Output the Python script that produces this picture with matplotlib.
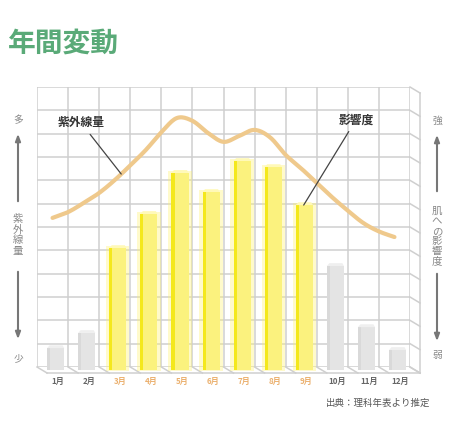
import numpy as np
import matplotlib.pyplot as plt
from matplotlib.patches import Polygon

plt.rcParams['font.family'] = ['Noto Sans CJK JP', 'DejaVu Sans']

# months and bar heights (skin impact, 12 grid divisions)
months = ['1月', '2月', '3月', '4月', '5月', '6月', '7月', '8月', '9月', '10月', '11月', '12月']
impact = [0.81, 1.46, 5.10, 6.56, 8.32, 7.50, 8.83, 8.57, 6.94, 4.33, 1.71, 0.73]
summer = [False, False, True, True, True, True, True, True, True, False, False, False]

# UV amount curve read at half-month steps
uv_x = [1, 1.5, 2, 2.5, 3, 3.5, 4, 4.5, 5, 5.5, 6, 6.5, 7, 7.5, 8, 8.5, 9, 9.5,
        10, 10.5, 11, 11.5, 12]
uv_y = [6.39, 6.64, 7.03, 7.46, 8.01, 8.64, 9.30, 10.06, 10.67, 10.55, 10.03, 9.65,
        9.90, 10.16, 9.84, 9.09, 8.51, 7.89, 7.27, 6.70, 6.17, 5.81, 5.57]

grid_c = '#cfcfcf'
curve_c = '#efc98c'
title_c = '#5aaa78'


def smooth(xs, ys, n=12):
    # catmull-rom through the read points
    p = np.column_stack([xs, ys])
    p = np.vstack([p[0], p, p[-1]])
    out = []
    for i in range(1, len(p) - 2):
        p0, p1, p2, p3 = p[i - 1], p[i], p[i + 1], p[i + 2]
        for t in np.linspace(0, 1, n, endpoint=False):
            t2, t3 = t * t, t * t * t
            out.append(0.5 * ((2 * p1) + (-p0 + p2) * t
                              + (2 * p0 - 5 * p1 + 4 * p2 - p3) * t2
                              + (-p0 + 3 * p1 - 3 * p2 + p3) * t3))
    out.append(p[-2])
    out = np.array(out)
    return out[:, 0], out[:, 1]


fig = plt.figure(figsize=(4.57, 4.22), dpi=100)
ax = fig.add_axes([37 / 457, 55 / 422, 373 / 457, 280 / 422])
ax.set_xlim(0.5, 12.5)
ax.set_ylim(0, 12)

# back wall grid
for gx in np.arange(0.5, 13, 1):
    ax.axvline(gx, color=grid_c, lw=1.1, zorder=0)
for gy in range(13):
    ax.axhline(gy, color=grid_c, lw=1.1, zorder=0)
for s in ax.spines.values():
    s.set_visible(False)
ax.set_xticks([])
ax.set_yticks([])

# depth offset of the pseudo 3D box (10px right, 6px down)
dx = 10 / 31
dy = -6 / 23.33
for gy in range(13):
    ax.plot([12.5, 12.5 + dx], [gy, gy + dy], color=grid_c, lw=1.1, clip_on=False, zorder=0)
ax.plot([12.5 + dx, 12.5 + dx], [dy, 12 + dy], color=grid_c, lw=1.1, clip_on=False, zorder=0)
for gx in np.arange(0.5, 13, 1):
    ax.plot([gx, gx + dx], [0, dy], color=grid_c, lw=1.1, clip_on=False, zorder=0)
ax.plot([0.5 + dx, 12.5 + dx], [dy, dy], color=grid_c, lw=1.1, clip_on=False, zorder=0)

# bars
x = np.arange(1, 13) + 0.1
base = -0.13
w = 0.55
for xi, v, hot in zip(x, impact, summer):
    if hot:
        ax.bar(xi, v - base + 0.15, width=w + 0.2, bottom=base - 0.05, color='#fff36a',
               alpha=0.35, lw=0, zorder=2, clip_on=False)
        ax.bar(xi, v - base, width=w, bottom=base, color='#fbf27e', lw=0, zorder=3, clip_on=False)
        ax.bar(xi - w / 2 + 0.05, v - base, width=0.1, bottom=base, color='#f4e81c',
               lw=0, zorder=3, clip_on=False)
        cap = '#fff9b8'
    else:
        ax.bar(xi, v - base, width=w, bottom=base, color='#e4e4e4', lw=0, zorder=3, clip_on=False)
        ax.bar(xi - w / 2 + 0.05, v - base, width=0.1, bottom=base, color='#d9d9d9',
               lw=0, zorder=3, clip_on=False)
        cap = '#efefef'
    ax.add_patch(Polygon([(xi - w / 2, v), (xi - w / 2 + 0.08, v + 0.12),
                          (xi + w / 2 - 0.05, v + 0.12), (xi + w / 2, v)],
                         closed=True, color=cap, lw=0, zorder=3, clip_on=False))

# UV curve
sx, sy = smooth(uv_x, uv_y)
ax.plot(sx, sy, color=curve_c, lw=3.0, solid_capstyle='round', zorder=4)

ax.annotate('紫外線量', xy=(3.21, 8.27), xytext=(1.92, 10.46), ha='center', va='center',
            fontsize=8.5, fontweight='bold', color='#333333',
            arrowprops=dict(arrowstyle='-', color='#444444', lw=0.9, shrinkA=2, shrinkB=0),
            zorder=5)
ax.annotate('影響度', xy=(9.08, 6.94), xytext=(10.76, 10.59), ha='center', va='center',
            fontsize=8.5, fontweight='bold', color='#333333',
            arrowprops=dict(arrowstyle='-', color='#444444', lw=0.9, shrinkA=2, shrinkB=0),
            zorder=5)

# month labels
for xi, m, hot in zip(np.arange(1, 13), months, summer):
    ax.text(xi + 0.17, -0.6, m, ha='center', va='center', fontsize=5.8, fontweight='bold',
            color='#ebb06e' if hot else '#666666', clip_on=False)

# overlay for titles and side scales (pixel coordinates)
ov = fig.add_axes([0, 0, 1, 1], facecolor='none')
ov.set_xlim(0, 457)
ov.set_ylim(422, 0)
ov.axis('off')

ov.text(8, 44, '年間変動', fontsize=20, fontweight='bold', color=title_c, ha='left', va='center')
ov.text(430, 403, '出典：理科年表より推定', fontsize=6.8, color='#555555', ha='right', va='center')

side_c = '#888888'
arrow_c = '#777777'
ov.text(18, 120, '多', fontsize=7, color=side_c, ha='center', va='center')
ov.text(18, 358, '少', fontsize=7, color=side_c, ha='center', va='center')
ov.text(18, 235, '\n'.join('紫外線量'), fontsize=7.5, color=side_c, ha='center', va='center',
        linespacing=1.05)
ov.annotate('', xy=(18, 131), xytext=(18, 204),
            arrowprops=dict(arrowstyle='-|>,head_width=0.15,head_length=0.4', color=arrow_c, lw=1.5))
ov.annotate('', xy=(18, 342), xytext=(18, 269),
            arrowprops=dict(arrowstyle='-|>,head_width=0.15,head_length=0.4', color=arrow_c, lw=1.5))

ov.text(437, 121, '強', fontsize=7, color=side_c, ha='center', va='center')
ov.text(437, 355, '弱', fontsize=7, color=side_c, ha='center', va='center')
ov.text(437, 236, '\n'.join('肌への影響度'), fontsize=7.5, color=side_c, ha='center', va='center',
        linespacing=1.0)
ov.annotate('', xy=(437, 132), xytext=(437, 194),
            arrowprops=dict(arrowstyle='-|>,head_width=0.15,head_length=0.4', color=arrow_c, lw=1.5))
ov.annotate('', xy=(437, 344), xytext=(437, 271),
            arrowprops=dict(arrowstyle='-|>,head_width=0.15,head_length=0.4', color=arrow_c, lw=1.5))

fig.savefig('out.png', dpi=100)
